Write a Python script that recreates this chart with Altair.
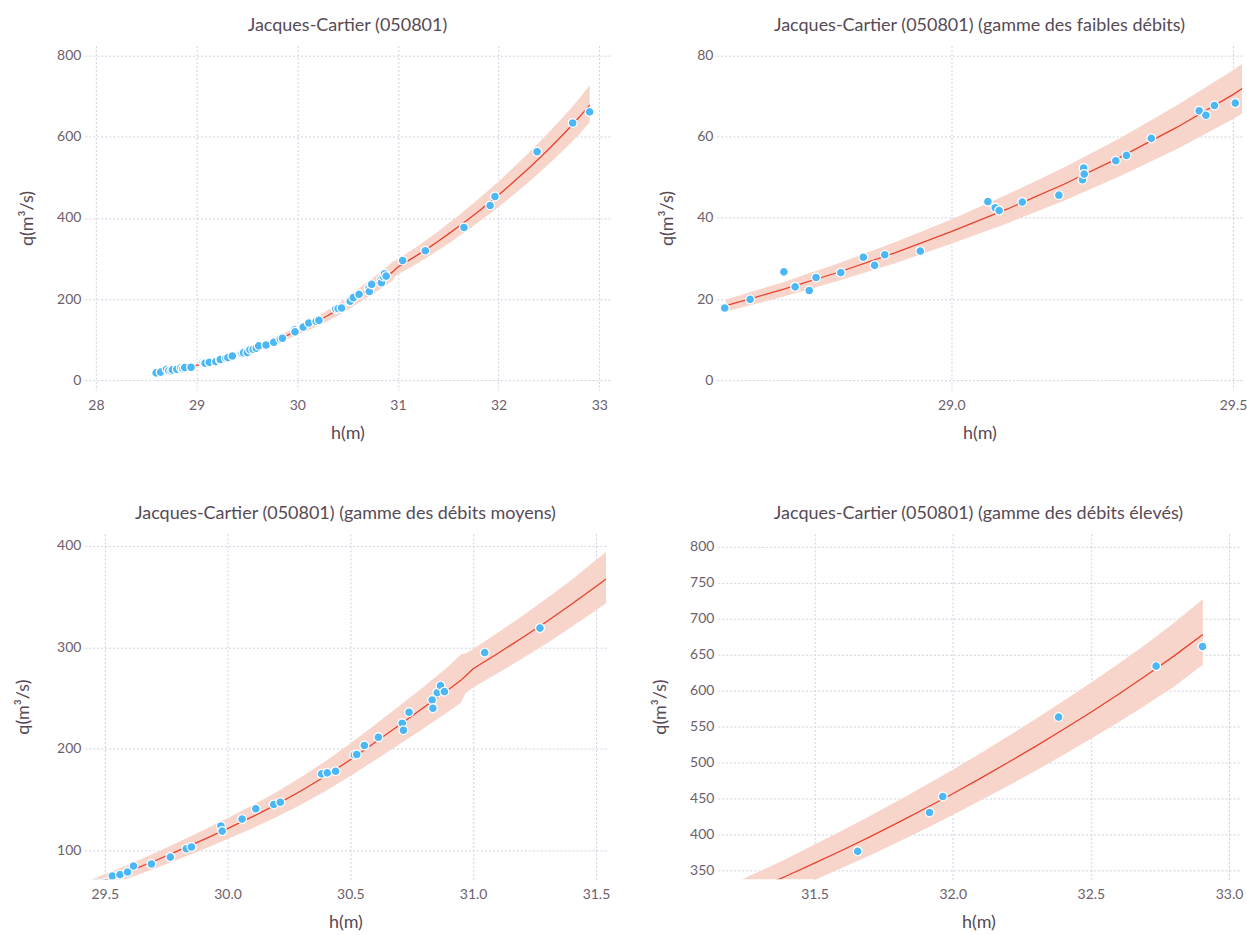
import altair as alt
import pandas as pd

FONT = "Lato"
TITLE_COLOR = "#564a55"
LABEL_COLOR = "#6c606b"
GRID_COLOR = "#d0d0e0"
POINT_COLOR = "#4cb7f5"
LINE_COLOR = "#e8412c"
BAND_COLOR = "#f8d5ca"

# observed gaugings
h_obs = [28.598, 28.643, 28.703, 28.723, 28.748, 28.760, 28.804, 28.844, 28.864, 28.882, 28.945,
         29.065, 29.078, 29.085, 29.126, 29.191, 29.233, 29.235, 29.236, 29.292, 29.311, 29.355,
         29.440, 29.452, 29.467, 29.504,
         29.531, 29.562, 29.593, 29.617, 29.690, 29.767, 29.832, 29.853, 29.973, 29.978,
         30.059, 30.115, 30.188, 30.215, 30.383, 30.406, 30.440, 30.516, 30.526, 30.557,
         30.614, 30.711, 30.716, 30.739, 30.833, 30.836, 30.854, 30.867, 30.883, 31.047, 31.272,
         31.656, 31.916, 31.964, 32.383, 32.736, 32.904]
q_obs = [17.8, 19.9, 26.7, 23.0, 22.1, 25.3, 26.5, 30.3, 28.3, 30.9, 31.8,
         44.0, 42.5, 41.8, 43.9, 45.6, 49.4, 52.3, 50.8, 54.1, 55.4, 59.6,
         66.4, 65.3, 67.7, 68.3,
         74.8, 76.1, 78.7, 84.6, 86.6, 93.4, 101.6, 103.3, 124.0, 119.0,
         130.8, 141.0, 145.2, 147.5, 175.4, 176.4, 178.0, 194.1, 194.5, 203.3,
         211.5, 225.2, 218.4, 236.1, 248.2, 240.0, 255.4, 262.3, 256.4, 294.8, 319.0,
         376.4, 430.5, 452.7, 563.2, 634.0, 661.3]

# rating curve and its uncertainty band
curve_h = [28.60, 28.70, 28.80, 28.90, 29.00, 29.10, 29.20, 29.30, 29.40, 29.50,
           29.60, 29.70, 29.80, 29.90, 30.00, 30.10, 30.20, 30.30, 30.40, 30.50,
           30.60, 30.70, 30.80, 30.90, 30.95, 30.97, 31.00, 31.10, 31.20, 31.30,
           31.40, 31.50, 31.60, 31.70, 31.80, 31.90, 32.00, 32.10, 32.20, 32.30,
           32.40, 32.50, 32.60, 32.70, 32.80, 32.905]
curve_q = [18.4, 22.3, 26.6, 31.4, 36.6, 42.2, 48.3, 55.0, 62.3, 70.4,
           79.5, 89.3, 99.7, 110.4, 121.5, 133.0, 145.3, 158.8, 173.3, 189.3,
           206.3, 223.5, 241.0, 258.6, 267.5, 272.0, 279.0, 294.0, 309.5, 325.5,
           342.5, 360.0, 378.0, 396.5, 416.0, 436.0, 456.5, 478.0, 500.0, 522.5,
           546.0, 570.0, 595.0, 621.0, 648.0, 678.0]
curve_lo = [16.9, 20.5, 24.5, 28.8, 33.6, 38.7, 44.2, 50.3, 56.9, 64.4,
            72.8, 81.7, 91.2, 101.0, 111.2, 121.7, 132.9, 145.3, 158.6, 173.2,
            188.8, 204.5, 220.5, 236.8, 245.5, 255.0, 260.5, 274.5, 289.0, 304.0,
            320.0, 336.5, 353.5, 370.5, 389.0, 407.5, 427.0, 447.0, 467.5, 488.5,
            510.5, 533.0, 556.0, 580.5, 605.5, 636.0]
curve_hi = [19.9, 24.1, 28.8, 34.0, 39.6, 45.8, 52.4, 59.7, 67.7, 76.4,
            86.3, 96.9, 108.2, 119.8, 131.8, 144.3, 157.6, 172.3, 188.0, 205.4,
            223.8, 242.5, 261.5, 281.5, 293.0, 294.0, 298.5, 314.5, 331.0, 348.5,
            366.5, 386.0, 405.5, 425.5, 446.5, 468.0, 490.0, 513.0, 536.5, 560.5,
            585.5, 611.0, 637.5, 665.0, 694.0, 727.0]

titles = ["Jacques-Cartier (050801)",
          "Jacques-Cartier (050801) (gamme des faibles débits)",
          "Jacques-Cartier (050801) (gamme des débits moyens)",
          "Jacques-Cartier (050801) (gamme des débits élevés)"]
x_domains = [[27.89, 33.107], [28.584, 29.516], [29.419, 31.541], [31.150, 33.036]]
y_domains = [[-24.6, 824.6], [-2.46, 82.46], [71.5, 411.8], [337.5, 818.0]]
x_ticks = [[28, 29, 30, 31, 32, 33], [29.0, 29.5], [29.5, 30.0, 30.5, 31.0, 31.5],
           [31.5, 32.0, 32.5, 33.0]]
x_formats = ["d", ".1f", ".1f", ".1f"]
y_ticks = [[0, 200, 400, 600, 800], [0, 20, 40, 60, 80], [100, 200, 300, 400],
           [350, 400, 450, 500, 550, 600, 650, 700, 750, 800]]

obs = pd.DataFrame({"h": h_obs, "q": q_obs})
curve = pd.DataFrame({"h": curve_h, "q": curve_q, "lo": curve_lo, "hi": curve_hi})


def panel(i, width, height, ytp):
    xs = alt.Scale(domain=x_domains[i], nice=False, zero=False)
    ys = alt.Scale(domain=y_domains[i], nice=False, zero=False)
    xa = alt.Axis(values=x_ticks[i], format=x_formats[i], title="h(m)",
                  labelPadding=8, titlePadding=12)
    ya = alt.Axis(values=y_ticks[i], title="q(m³/s)", labelPadding=4, titlePadding=ytp)
    band = alt.Chart(curve).mark_area(color=BAND_COLOR, opacity=1, clip=True).encode(
        x=alt.X("h:Q", scale=xs, axis=xa),
        y=alt.Y("lo:Q", scale=ys, axis=ya),
        y2="hi:Q",
    )
    line = alt.Chart(curve).mark_line(color=LINE_COLOR, strokeWidth=1.3, clip=True).encode(
        x=alt.X("h:Q", scale=xs, axis=xa),
        y=alt.Y("q:Q", scale=ys, axis=ya),
    )
    pts = alt.Chart(obs).mark_circle(size=78, color=POINT_COLOR, opacity=1, stroke="white",
                                     strokeWidth=1.2, clip=True).encode(
        x=alt.X("h:Q", scale=xs, axis=xa),
        y=alt.Y("q:Q", scale=ys, axis=ya),
    )
    return alt.layer(band, line, pts).properties(width=width, height=height, title=titles[i])


row1 = alt.hconcat(panel(0, 526, 345, 20), panel(1, 526, 345, 20), spacing=48)
row2 = alt.hconcat(panel(2, 522, 346, 24), panel(3, 522, 346, 20), spacing=41)

chart = alt.vconcat(row1, row2, spacing=63).properties(
    padding={"left": 14, "top": 16, "right": 0, "bottom": 0},
    background="white",
).configure_view(strokeWidth=0).configure_axis(
    domain=False, ticks=False, grid=True, gridColor=GRID_COLOR, gridDash=[2, 2], gridWidth=1,
    labelFont=FONT, labelFontSize=14, labelColor=LABEL_COLOR,
    titleFont=FONT, titleFontSize=18, titleColor=TITLE_COLOR, titleFontWeight="normal",
).configure_title(
    font=FONT, fontSize=18, color=TITLE_COLOR, fontWeight="normal", anchor="middle", offset=11,
)

chart.save("out.html", embed_options={"renderer": "svg", "actions": False})
